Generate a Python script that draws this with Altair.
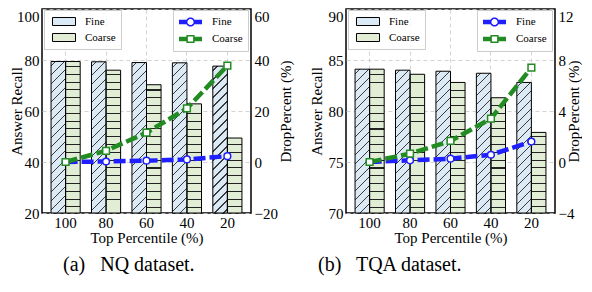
import math
import altair as alt
import pandas as pd

# ---------------- data ----------------
pct = ["100", "80", "60", "40", "20"]
series = ["Fine", "Coarse"]

nq_fine_recall = [79.4, 79.3, 79.0, 78.9, 77.6]
nq_coarse_recall = [79.4, 76.0, 70.3, 62.8, 49.4]
nq_fine_drop = [0.0, 0.2, 0.5, 1.0, 2.3]
nq_coarse_drop = [0.0, 4.4, 11.5, 21.0, 37.8]

tqa_fine_recall = [84.1, 84.0, 83.9, 83.7, 82.8]
tqa_coarse_recall = [84.1, 83.6, 82.8, 81.3, 77.9]
tqa_fine_drop = [0.0, 0.13, 0.26, 0.57, 1.6]
tqa_coarse_drop = [0.0, 0.65, 1.65, 3.4, 7.4]

nq_recall_ticks = [20, 40, 60, 80, 100]
nq_drop_ticks = [-20, 0, 20, 40, 60]
tqa_recall_ticks = [70, 75, 80, 85, 90]
tqa_drop_ticks = [-4, 0, 4, 8, 12]

# ---------------- style ----------------
W, H = 209, 204
P_IN, P_OUT = 0.28, 0.224
FONT = "Liberation Serif, Times New Roman, Times, DejaVu Serif, serif"
FINE_FILL, COARSE_FILL = "#dceaf5", "#e2edd6"
BLUE, GREEN = "#1f1fff", "#228b22"
T = "rgba(0,0,0,0)"
AX = dict(labelFont=FONT, titleFont=FONT, labelFontSize=15, titleFontSize=15,
          titleFontWeight="normal", labelColor="black", titleColor="black",
          ticks=False, domain=False, gridColor="#c8c8c8", gridDash=[4, 3],
          gridWidth=0.8)

step = W / (len(pct) - P_IN + 2 * P_OUT)
BW = step * (1 - P_IN) / 2


def gs(c, o):
    return alt.GradientStop(color=c, offset=min(1.0, max(0.0, o)))


def diag_gradient(w, h, spacing=9.0, lw=1.2, color="#3a3a3a"):
    L = w * w + h * h
    stops = [gs(T, 0)]
    c = spacing / 2
    while c < w + h:
        a = w * (c - lw / 2) / L
        b = w * (c + lw / 2) / L
        stops += [gs(T, a), gs(color, a), gs(color, b), gs(T, b)]
        c += spacing
    stops.append(gs(T, 1))
    return alt.LinearGradient(gradient="linear", stops=stops, x1=0, y1=0, x2=1, y2=h / w)


def horiz_gradient(h, spacing=7.8, first=6.0, lw=1.0, color="#222222"):
    ys = []
    yb = first
    while yb < h - 2:
        ys.append(h - yb)
        yb += spacing
    ys.sort()
    stops = [gs(T, 0)]
    for y in ys:
        a = (y - lw / 2) / h
        b = (y + lw / 2) / h
        stops += [gs(T, a), gs(color, a), gs(color, b), gs(T, b)]
    stops.append(gs(T, 1))
    return alt.LinearGradient(gradient="linear", stops=stops, x1=0, y1=0, x2=0, y2=1)


# legend symbols (unit coords, scaled by sqrt(symbolSize)/2 = 6 px)
HALF = 1.917
LINE_YS = [-0.25, -0.0833, 0.0833, 0.25]


def circle_sym(R=0.63, n=24):
    parts = []
    for y in LINE_YS:
        xe = math.sqrt(max(R * R - y * y, 0))
        parts.append(f"M{-HALF},{y}L{-xe:.3f},{y}M{xe:.3f},{y}L{HALF},{y}")
    pts = [(R * math.cos(2 * math.pi * k / n), R * math.sin(2 * math.pi * k / n)) for k in range(n)]
    parts.append("M" + "L".join(f"{x:.3f},{y:.3f}" for x, y in pts) + "Z")
    return "".join(parts)


def square_sym(r=0.56):
    parts = []
    for y in LINE_YS:
        parts.append(f"M{-HALF},{y}L{-r},{y}M{r},{y}L{HALF},{y}")
    parts.append(f"M{-r},{-r}L{r},{-r}L{r},{r}L{-r},{r}Z")
    return "".join(parts)


FINE_SYM = circle_sym()
COARSE_SYM = square_sym()
BAR_SYM = "M-1.917,-0.667L1.917,-0.667L1.917,0.667L-1.917,0.667Z"
LINE_KEYS = ["L" + s for s in series]


def top_baseline(vmax):
    return {"condition": {"test": f"datum.value == {vmax}", "value": "top"}, "value": "middle"}


def panel(fine_recall, coarse_recall, fine_drop, coarse_drop, r_ticks, d_ticks,
          caption, cap_dx, left_title_x, right_title_x):
    rec_df = pd.DataFrame({"pct": pct * 2,
                           "series": ["Fine"] * 5 + ["Coarse"] * 5,
                           "recall": fine_recall + coarse_recall})
    drop_df = pd.DataFrame({"pct": pct * 2,
                            "series": ["Fine"] * 5 + ["Coarse"] * 5,
                            "drop": fine_drop + coarse_drop})
    rmin, rmax = r_ticks[0], r_ticks[-1]
    dmin, dmax = d_ticks[0], d_ticks[-1]

    xscale = alt.Scale(paddingInner=P_IN, paddingOuter=P_OUT)
    xaxis = alt.Axis(labelAngle=0, grid=True, bandPosition=0.5,
                     labelPadding=2, titlePadding=0, **AX)
    x = alt.X("pct:N", sort=pct, scale=xscale, title="Top Percentile (%)", axis=xaxis)
    xoff = alt.XOffset("series:N", sort=series,
                       scale=alt.Scale(domain=series, paddingInner=0, paddingOuter=0))
    rscale = alt.Scale(domain=[rmin, rmax], nice=False, zero=False)
    yaxis = alt.Axis(values=r_ticks, grid=True, labelPadding=3,
                     labelBaseline=top_baseline(rmax),
                     titleX=left_title_x, titleY=H / 2, titleAngle=270,
                     titleBaseline="bottom", titleAlign="center", **AX)
    yrec = alt.Y("recall:Q", scale=rscale, title="Answer Recall", axis=yaxis)

    base = alt.Chart(rec_df).mark_bar(strokeWidth=0).encode(
        x=x, xOffset=xoff, y=yrec, y2=alt.datum(rmin),
        fill=alt.Fill("series:N", sort=series,
                      scale=alt.Scale(domain=series, range=[FINE_FILL, COARSE_FILL]),
                      legend=alt.Legend(title=None, orient="none", legendX=2, legendY=1,
                                        direction="vertical", symbolType=BAR_SYM,
                                        symbolSize=144, symbolStrokeColor="black",
                                        symbolStrokeWidth=1, symbolOffset=8.5,
                                        labelOffset=14.5, labelFont=FONT,
                                        labelFontSize=11, labelColor="black",
                                        padding=5, rowPadding=3,
                                        strokeColor="#cccccc",
                                        fillColor="rgba(255,255,255,0.8)")))
    overlays = []
    for i, p in enumerate(pct):
        for s, vals in (("Fine", fine_recall), ("Coarse", coarse_recall)):
            h = (vals[i] - rmin) / (rmax - rmin) * H
            grad = diag_gradient(BW, h) if s == "Fine" else horiz_gradient(h)
            overlays.append(
                alt.Chart(rec_df)
                .transform_filter(f"datum.pct == '{p}' && datum.series == '{s}'")
                .mark_bar(fill=grad, stroke="black", strokeWidth=1)
                .encode(x=alt.X("pct:N", sort=pct, scale=xscale,
                                title="Top Percentile (%)", axis=xaxis),
                        xOffset=xoff,
                        y=alt.Y("recall:Q", scale=rscale, title="Answer Recall",
                                axis=yaxis),
                        y2=alt.datum(rmin)))
    bars = alt.layer(base, *overlays)

    dscale = alt.Scale(domain=[dmin, dmax], nice=False, zero=False)
    daxis = alt.Axis(orient="right", values=d_ticks, grid=False, labelPadding=3,
                     labelBaseline=top_baseline(dmax),
                     titleX=right_title_x, titleY=H / 2, titleAngle=270,
                     titleBaseline="bottom", titleAlign="center", **AX)
    yd = alt.Y("drop:Q", scale=dscale, title="DropPercent (%)", axis=daxis)
    line_legend = alt.Legend(title=None, orient="none", legendX=131, legendY=1,
                             direction="vertical", symbolSize=144,
                             symbolStrokeWidth=1.5, symbolOpacity=1,
                             symbolFillColor="transparent",
                             symbolOffset=5.5, labelOffset=14.5, labelFont=FONT,
                             labelFontSize=11, labelColor="black", padding=5,
                             rowPadding=3, strokeColor="#cccccc",
                             fillColor="rgba(255,255,255,0.8)",
                             labelExpr="slice(datum.label, 1)")
    stroke = alt.Stroke("key:N", sort=LINE_KEYS,
                        scale=alt.Scale(domain=LINE_KEYS, range=[BLUE, GREEN]),
                        legend=line_legend)
    xl = alt.X("pct:N", sort=pct, scale=xscale, title="Top Percentile (%)", axis=xaxis)
    lbase = alt.Chart(drop_df).transform_calculate(key="'L' + datum.series")
    line = lbase.mark_line(strokeWidth=4.5, strokeDash=[12, 4]).encode(
        x=xl, y=yd, stroke=stroke)
    legend_only = lbase.transform_filter("false").mark_point(
        strokeWidth=1.5, opacity=1).encode(
        x=xl, y=yd, stroke=stroke,
        shape=alt.Shape("key:N", sort=LINE_KEYS,
                        scale=alt.Scale(domain=LINE_KEYS, range=[FINE_SYM, COARSE_SYM]),
                        legend=line_legend))
    pts = []
    for s, shp, col in (("Fine", "circle", BLUE), ("Coarse", "square", GREEN)):
        pts.append(alt.Chart(drop_df).transform_filter(f"datum.series == '{s}'")
                   .mark_point(shape=shp, filled=True, fill="white", stroke=col,
                               strokeWidth=1.5, size=45, opacity=1)
                   .encode(x=xl, y=yd))
    lines = alt.layer(line, legend_only, *pts)

    return alt.layer(bars, lines).resolve_scale(y="independent").properties(
        width=W, height=H,
        title=alt.TitleParams(caption, orient="bottom", anchor="start", frame="group",
                              dx=cap_dx, fontSize=20, font=FONT, fontWeight="normal",
                              color="black", offset=10))


pa = panel(nq_fine_recall, nq_coarse_recall, nq_fine_drop, nq_coarse_drop,
           nq_recall_ticks, nq_drop_ticks, "(a)\u00a0\u00a0 NQ dataset.", 21, -18, 42)
pb = panel(tqa_fine_recall, tqa_coarse_recall, tqa_fine_drop, tqa_coarse_drop,
           tqa_recall_ticks, tqa_drop_ticks, "(b)\u00a0\u00a0 TQA dataset.", -28, -22, 26)

chart = alt.hconcat(pa, pb, spacing=14).resolve_scale(
    fill="independent", stroke="independent", shape="independent"
).properties(
    padding={"left": 0, "top": 0, "right": 0, "bottom": 0}
).configure_view(
    stroke="black", strokeWidth=1.5
).configure_axis(**AX)

chart.save("out.html", embed_options={"renderer": "svg", "actions": False})
